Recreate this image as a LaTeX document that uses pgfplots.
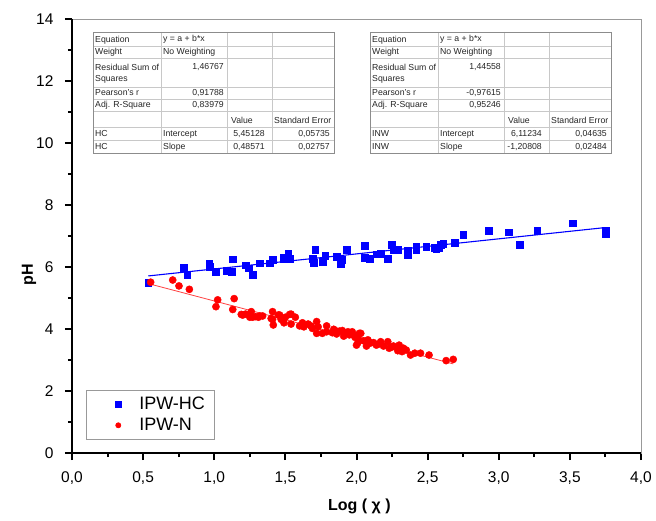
\documentclass[border=0pt]{standalone}
\usepackage{fontspec}
\setmainfont{Liberation Sans}
\usepackage{pgfplots}
\pgfplotsset{compat=1.18}
\definecolor{myblue}{RGB}{0,0,255}
\definecolor{myred}{RGB}{255,0,0}
\definecolor{tabline}{RGB}{140,140,140}
\definecolor{tabinner}{RGB}{200,200,200}

\newcommand{\regtable}[9]{%
\begin{scope}[xshift=#1pt, every node/.style={inner sep=0pt, font=\fontsize{8.7}{10}\selectfont, text=black!85}]
\fill[white] (0,32) rectangle (241,153);
\foreach \yy in {46,58,87,99,111,127,140} \draw[tabinner, line width=0.6pt] (0,\yy) -- (241,\yy);
\foreach \xx in {68,134,179} \draw[tabinner, line width=0.6pt] (\xx,32) -- (\xx,153);
\draw[tabline, line width=0.8pt] (0,32) rectangle (241,153);
\node[anchor=base west] at (2,42.5) {Equation};
\node[anchor=base west] at (70,42) {y = a + b*x};
\node[anchor=base west] at (2,55) {Weight};
\node[anchor=base west] at (70,55) {No Weighting};
\node[anchor=base west] at (2,70.5) {Residual Sum of};
\node[anchor=base west] at (2,82) {Squares};
\node[anchor=base east] at (131,70) {#3};
\node[anchor=base west] at (2,96) {Pearson's r};
\node[anchor=base east] at (131,96) {#4};
\node[anchor=base west] at (2,108) {Adj. R-Square};
\node[anchor=base east] at (131,108) {#5};
\node[anchor=base west] at (138,124) {Value};
\node[anchor=base west] at (181,124) {Standard Error};
\node[anchor=base west] at (2,137) {#2};
\node[anchor=base west] at (70,137) {Intercept};
\node[anchor=base east] at (172,137) {#6};
\node[anchor=base east] at (237,137) {#8};
\node[anchor=base west] at (2,150) {#2};
\node[anchor=base west] at (70,150) {Slope};
\node[anchor=base east] at (172,150) {#7};
\node[anchor=base east] at (237,150) {#9};
\end{scope}}

\begin{document}
\begin{tikzpicture}
\path[use as bounding box] (0pt,0pt) rectangle (656pt,520pt);
\begin{axis}[
  at={(72pt,67pt)}, anchor=south west,
  scale only axis, width=569pt, height=434pt,
  clip=false,
  xmin=0, xmax=4, ymin=0, ymax=14,
  xtick={0,0.5,1,1.5,2,2.5,3,3.5,4},
  ytick={0,2,4,6,8,10,12,14},
  minor x tick num=1, minor y tick num=1,
  xtick pos=bottom, ytick pos=left,
  tick align=outside,
  major tick length=7pt, minor tick length=4pt,
  every tick/.style={black, line width=2pt},
  axis line style={draw=gray!80, line width=0.6pt},
  /pgf/number format/assume math mode=true,
  xticklabel style={yshift=-8pt, /pgf/number format/.cd, use comma, fixed, fixed zerofill, precision=1},
  yticklabel style={xshift=-8pt},
  tick label style={font=\fontsize{15.5}{17}\selectfont},
  xlabel={Log ( χ )}, ylabel={pH},
  label style={font=\fontsize{16}{18}\selectfont\bfseries},
  xlabel style={at={(axis description cs:0.505,-0.1221)}, anchor=center},
  ylabel style={at={(axis description cs:-0.0756,0.41)}, anchor=center, rotate=0},
  legend style={at={(axis description cs:0.0246,0.1452)}, anchor=north west,
    draw=gray!80, line width=0.6pt, font=\fontsize{18}{20}\selectfont,
    inner xsep=2pt, inner ysep=3.5pt, row sep=0pt,
    nodes={inner ysep=3.5pt, inner xsep=7pt}},
  legend cell align=left,
  legend image code/.code={\path[draw=none,fill=none] (0pt,0pt) -- (44pt,0pt); \draw[#1, only marks, mark size=2.6pt] plot coordinates {(30pt,0pt)};},
]
\addplot[only marks, mark=square*, mark size=3.4pt, color=myblue, mark options={draw=myblue, fill=myblue}] coordinates {
(0.536,5.49) (0.787,5.99) (0.81,5.75) (0.965,6.10) (0.97,6.01) (1.01,5.86)
(1.09,5.88) (1.12,5.85) (1.13,6.25) (1.22,6.06) (1.24,5.96) (1.27,5.75)
(1.32,6.12) (1.39,6.12) (1.41,6.23) (1.49,6.31) (1.49,6.25) (1.52,6.42)
(1.53,6.28) (1.69,6.26) (1.70,6.15) (1.71,6.55) (1.76,6.17) (1.78,6.37)
(1.86,6.34) (1.89,6.10) (1.90,6.23) (1.93,6.57) (2.06,6.68) (2.06,6.31)
(2.09,6.28) (2.14,6.41) (2.17,6.44) (2.22,6.26) (2.25,6.71) (2.26,6.57)
(2.29,6.57) (2.36,6.39) (2.36,6.53) (2.42,6.66) (2.42,6.55) (2.49,6.66)
(2.55,6.63) (2.56,6.60) (2.58,6.63) (2.59,6.73) (2.61,6.74) (2.69,6.78)
(2.75,7.03) (2.93,7.17) (3.07,7.12) (3.15,6.71) (3.27,7.16) (3.52,7.41)
(3.75,7.19) (3.75,7.06)
};
\addlegendentry{IPW-HC}
\addplot[only marks, mark=*, mark size=3.6pt, color=myred, mark options={draw=myred, fill=myred}] coordinates {
(0.553,5.51) (0.708,5.58) (0.752,5.39) (0.825,5.28) (1.012,4.72) (1.024,4.94)
(1.13,4.63) (1.14,4.98) (1.19,4.47) (1.20,4.45) (1.22,4.48) (1.25,4.38)
(1.26,4.56) (1.27,4.38) (1.29,4.40) (1.31,4.38) (1.32,4.42) (1.34,4.42)
(1.40,4.34) (1.41,4.56) (1.41,4.31) (1.415,4.13) (1.45,4.45) (1.46,4.45)
(1.47,4.31) (1.49,4.20) (1.50,4.38) (1.53,4.47) (1.54,4.48) (1.54,4.16)
(1.57,4.38) (1.60,4.10) (1.62,4.20) (1.63,4.07) (1.66,4.16) (1.68,4.10)
(1.69,4.02) (1.72,4.24) (1.72,3.86) (1.73,4.07) (1.76,3.86) (1.79,4.10)
(1.79,3.91) (1.83,3.88) (1.84,3.99) (1.85,3.95) (1.86,3.84) (1.88,3.93)
(1.90,3.95) (1.91,3.77) (1.94,3.91) (1.95,3.81) (1.97,3.91) (1.98,3.80)
(1.99,3.73) (2.00,3.48) (2.01,3.56) (2.01,3.73) (2.02,3.86) (2.03,3.86)
(2.05,3.62) (2.07,3.45) (2.08,3.65) (2.10,3.55) (2.12,3.56) (2.14,3.48)
(2.16,3.52) (2.17,3.59) (2.19,3.45) (2.22,3.59) (2.23,3.38) (2.25,3.42)
(2.26,3.45) (2.29,3.30) (2.30,3.48) (2.32,3.27) (2.33,3.38) (2.35,3.32)
(2.38,3.16) (2.41,3.22) (2.45,3.22) (2.51,3.16) (2.63,2.98) (2.68,3.02)
};
\addlegendentry{IPW-N}
\addplot[myblue, line width=1.1pt, forget plot] coordinates {(0.536,5.7116) (3.75,7.2727)};
\addplot[myred!75, line width=0.8pt, forget plot] coordinates {(0.553,5.4443) (2.68,2.8747)};
\draw[black, line width=2.5pt] (rel axis cs:0,1) -- (rel axis cs:0,0) -- (rel axis cs:1,0);
\end{axis}
\begin{scope}[x=1pt, y=-1pt, shift={(0pt,520pt)}]
\regtable{93}{HC}{1,46767}{0,91788}{0,83979}{5,45128}{0,48571}{0,05735}{0,02757}
\regtable{370}{INW}{1,44558}{-0,97615}{0,95246}{6,11234}{-1,20808}{0,04635}{0,02484}
\end{scope}
\end{tikzpicture}
\end{document}
